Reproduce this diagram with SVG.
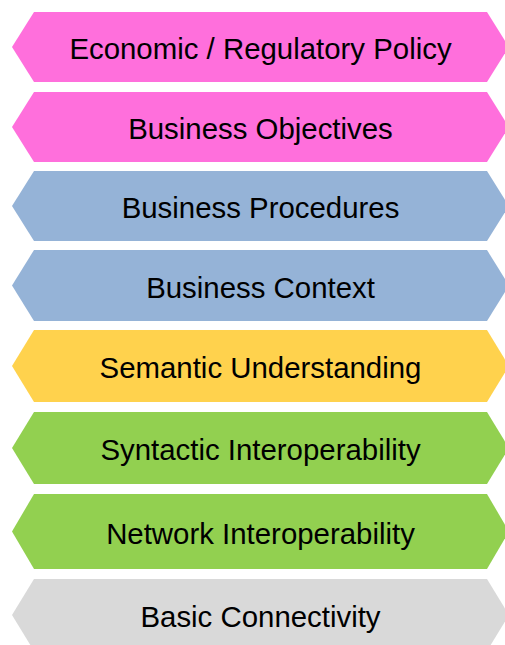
<svg xmlns="http://www.w3.org/2000/svg" width="505" height="645" viewBox="0 0 505 645">
<style>
text{font-family:"Liberation Sans",Arial,sans-serif;font-size:29.4px;fill:#000;text-anchor:middle}
.pink{fill:#FF6FDC}.blue{fill:#95B3D7}.yellow{fill:#FFD24D}.green{fill:#92D050}.gray{fill:#D9D9D9}
</style>
<rect width="505" height="645" fill="#fff"/>
<g id="n1"><polygon class="pink" points="12,47 34,12 487,12 509,47 487,82 34,82"/><text x="260.5" y="58.7">Economic / Regulatory Policy</text></g>
<g id="n2"><polygon class="pink" points="12,127 34,92 487,92 509,127 487,162 34,162"/><text x="260.5" y="138.7">Business Objectives</text></g>
<g id="n3"><polygon class="blue" points="12,206 34,171 487,171 509,206 487,241 34,241"/><text x="260.5" y="217.9">Business Procedures</text></g>
<g id="n4"><polygon class="blue" points="12,285.5 34,250 487,250 509,285.5 487,321 34,321"/><text x="260.5" y="297.6">Business Context</text></g>
<g id="n5"><polygon class="yellow" points="12,366 34,330 487,330 509,366 487,402 34,402"/><text x="260.5" y="378.2">Semantic Understanding</text></g>
<g id="n6"><polygon class="green" points="12,448 34,412 487,412 509,448 487,484 34,484"/><text x="260.5" y="460">Syntactic Interoperability</text></g>
<g id="n7"><polygon class="green" points="12,531.5 34,494 487,494 509,531.5 487,569 34,569"/><text x="260.5" y="543.6">Network Interoperability</text></g>
<g id="n8"><polygon class="gray" points="12,615 34,579 487,579 509,615 487,651 34,651"/><text x="260.5" y="626.5">Basic Connectivity</text></g>
<g id="connectors"></g>
</svg>
